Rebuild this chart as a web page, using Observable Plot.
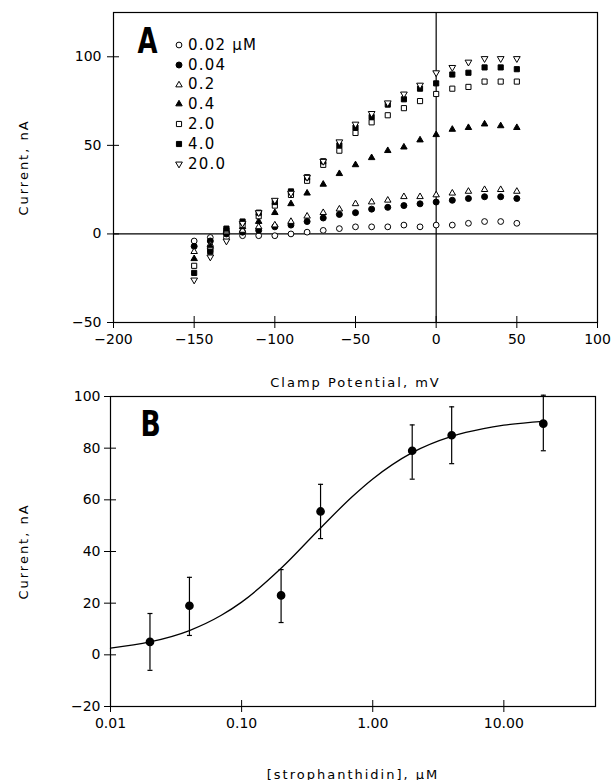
<!DOCTYPE html>
<html><head><meta charset="utf-8">
<script src="https://cdn.jsdelivr.net/npm/d3@7"></script>
<script src="https://cdn.jsdelivr.net/npm/@observablehq/plot@0.6"></script>
<style>
body{margin:0;background:#fff;}
#wrap{position:relative;width:613px;height:780px;overflow:hidden;}
#wrap svg{display:block;}
svg [aria-label$="axis label"]{font-size:13px;letter-spacing:2px;}
.legend{position:absolute;left:171px;top:35px;font-family:"DejaVu Sans",sans-serif;font-size:15px;letter-spacing:1.2px;color:#000;}
.legend .row{display:flex;align-items:center;height:19.8px;}
.legend svg{margin-right:1px;}
</style></head><body><div id="wrap"></div>
<script>
// ---------- Panel A data ----------
const potentials = [-150,-140,-130,-120,-110,-100,-90,-80,-70,-60,-50,-40,-30,-20,-10,0,10,20,30,40,50];
const concLabels = ["0.02 μM","0.04","0.2","0.4","2.0","4.0","20.0"];
const cur_0_02 = [-4,-2,-2,-1,-1,-1,0,1,2,3,4,4,4,5,4,5,5,6,7,7,6];
const cur_0_04 = [-7,-4,0,1,2,4,5,7,9,11,12,14,15,16,17,18,19,20,21,21,20];
const cur_0_2  = [-10,-6,1,2,4,5,7,10,12,14,17,18,19,21,21,22,23,24,25,25,24];
const cur_0_4  = [-14,-7,2,4,7,12,17,23,28,34,39,43,47,49,53,56,59,60,62,61,60];
const cur_2_0  = [-18,-9,2,5,10,16,22,30,39,47,57,63,67,71,75,79,82,83,86,86,86];
const cur_4_0  = [-22,-10,3,7,12,18,24,32,41,50,60,66,73,76,82,85,90,91,94,94,93];
const cur_20_0 = [-26,-13,-4,6,12,19,23,32,41,52,62,68,74,79,84,91,94,97,99,99,99];
const seriesA = [cur_0_02,cur_0_04,cur_0_2,cur_0_4,cur_2_0,cur_4_0,cur_20_0];
const xTicksA = [-200,-150,-100,-50,0,50,100];
const yTicksA = [-50,0,50,100];

// ---------- Panel B data ----------
const concB  = [0.02,0.04,0.2,0.4,2,4,20];
const meanB  = [5,19,23,55.5,79,85,89.5];
const lowB   = [-6,7.5,12.5,45,68,74,79];
const highB  = [16,30,33,66,89,96,100.5];
const fitX   = [0.01,0.02,0.04,0.07,0.1,0.2,0.4,0.7,1,2,4,7,10,20];
const fitY   = [2.6,5,9.4,15.3,20.4,33.5,49.1,61.3,68.1,78.3,84.6,87.6,88.9,90.4];
const xTicksB = [0.01,0.1,1,10];
const yTicksB = [-20,0,20,40,60,80,100];

// ---------- styles ----------
const triangleDown = {draw(ctx, size){
  const y = -Math.sqrt(size / (Math.sqrt(3) * 3));
  ctx.moveTo(0, -y * 2); ctx.lineTo(-Math.sqrt(3) * y, y); ctx.lineTo(Math.sqrt(3) * y, y); ctx.closePath();
}};
const capSym = {draw(ctx){ ctx.moveTo(-2.5,0); ctx.lineTo(2.5,0); }};
const styles = [
  {symbol: "circle",   fill: "white", r: 2.9},
  {symbol: "circle",   fill: "black", r: 3},
  {symbol: "triangle", fill: "white", r: 2.4},
  {symbol: "triangle", fill: "black", r: 2.4},
  {symbol: "square",   fill: "white", r: 2.9},
  {symbol: "square",   fill: "black", r: 2.9},
  {symbol: triangleDown, fill: "white", r: 2.5}
];

const rowsA = seriesA.flatMap((arr, i) => arr.map((v, j) => ({s: i, x: potentials[j], y: v})));
const dotMarks = styles.map((st, i) => Plot.dot(rowsA.filter(d => d.s === i), {
  x: "x", y: "y", symbol: st.symbol, r: st.r, fill: st.fill, stroke: "black", strokeWidth: 1
}));

const fontBase = {fontFamily: "'DejaVu Sans', sans-serif", fontSize: "14px", color: "black", background: "white", overflow: "visible"};
const letterFont = "'DejaVu Sans',sans-serif";

const plotA = Plot.plot({
  width: 613, height: 390,
  marginLeft: 113, marginRight: 16, marginTop: 12, marginBottom: 68,
  x: {domain: [-200, 100]},
  y: {domain: [-50, 125]},
  style: fontBase,
  marks: [
    Plot.ruleX([0], {stroke: "black", strokeWidth: 1.2}),
    Plot.ruleY([0], {stroke: "black", strokeWidth: 1.2}),
    Plot.frame({stroke: "black", strokeWidth: 1.2}),
    Plot.axisX({ticks: xTicksA, tickSize: 12, dy: -6, tickFormat: () => "", label: null}),
    Plot.axisX({ticks: xTicksA, tickSize: 0, tickPadding: 12, label: "Clamp Potential, mV", labelAnchor: "center", labelOffset: 64, labelArrow: "none"}),
    Plot.axisY({ticks: yTicksA, tickSize: 12, dx: 6, tickFormat: () => "", label: null}),
    Plot.axisY({ticks: yTicksA, tickSize: 0, tickPadding: 12, label: "Current, nA", labelAnchor: "center", labelOffset: 95, labelArrow: "none"}),
    ...dotMarks,
    Plot.text(["A"], {text: d => d, frameAnchor: "top-left", dx: 24, dy: 16, textAnchor: "start", lineAnchor: "top", fontSize: 35, fontWeight: "bold", fontFamily: letterFont})
  ]
});

const rowsB = concB.map((c, i) => ({x: c, y: meanB[i], lo: lowB[i], hi: highB[i]}));
const fitRows = fitX.map((x, i) => ({x, y: fitY[i]}));

const plotB = Plot.plot({
  width: 613, height: 390,
  marginLeft: 110, marginRight: 18, marginTop: 6, marginBottom: 74,
  x: {type: "log", domain: [0.01, 50]},
  y: {domain: [-20, 100]},
  style: fontBase,
  marks: [
    Plot.frame({stroke: "black", strokeWidth: 1.2}),
    Plot.axisX({ticks: xTicksB, tickSize: 12, dy: -6, tickFormat: () => "", label: null}),
    Plot.axisX({ticks: xTicksB, tickSize: 0, tickPadding: 12, tickFormat: d3.format(".2f"), label: "[strophanthidin], μM", labelAnchor: "center", labelOffset: 72, labelArrow: "none"}),
    Plot.axisY({ticks: yTicksB, tickSize: 12, dx: 6, tickFormat: () => "", label: null}),
    Plot.axisY({ticks: yTicksB, tickSize: 0, tickPadding: 10, label: "Current, nA", labelAnchor: "center", labelOffset: 92, labelArrow: "none"}),
    Plot.line(fitRows, {x: "x", y: "y", curve: "monotone-x", stroke: "black", strokeWidth: 1.3}),
    Plot.ruleX(rowsB, {x: "x", y1: "lo", y2: "hi", stroke: "black", strokeWidth: 1.2}),
    Plot.dot(rowsB, {x: "x", y: "lo", symbol: capSym, stroke: "black", strokeWidth: 1.2}),
    Plot.dot(rowsB, {x: "x", y: "hi", symbol: capSym, stroke: "black", strokeWidth: 1.2}),
    Plot.dot(rowsB, {x: "x", y: "y", r: 3.6, fill: "black", stroke: "black"}),
    Plot.text(["B"], {text: d => d, frameAnchor: "top-left", dx: 30, dy: 14, textAnchor: "start", lineAnchor: "top", fontSize: 36, fontWeight: "bold", fontFamily: letterFont})
  ]
});

// narrow the bold panel letters (condensed look)
for (const p of [plotA, plotB]) {
  d3.select(p).selectAll('g[aria-label="text"] text').each(function() {
    const t = this.getAttribute("transform") || "";
    this.setAttribute("transform", t + " scale(0.74,1)");
  });
}

const wrap = document.getElementById("wrap");
wrap.appendChild(plotA);
wrap.appendChild(plotB);

// legend for panel A
const legend = document.createElement("div");
legend.className = "legend";
concLabels.forEach((lab, i) => {
  const st = styles[i];
  const row = document.createElement("div");
  row.className = "row";
  const s = d3.create("svg").attr("width", 16).attr("height", 20);
  const type = st.symbol === "circle" ? d3.symbolCircle : st.symbol === "triangle" ? d3.symbolTriangle : st.symbol === "square" ? d3.symbolSquare : st.symbol;
  s.append("path").attr("transform", "translate(8,10)")
    .attr("d", d3.symbol(type, Math.PI * st.r * st.r)())
    .attr("fill", st.fill).attr("stroke", "black").attr("stroke-width", 1);
  row.appendChild(s.node());
  const t = document.createElement("span");
  t.textContent = lab;
  row.appendChild(t);
  legend.appendChild(row);
});
wrap.appendChild(legend);
</script>
</body></html>
